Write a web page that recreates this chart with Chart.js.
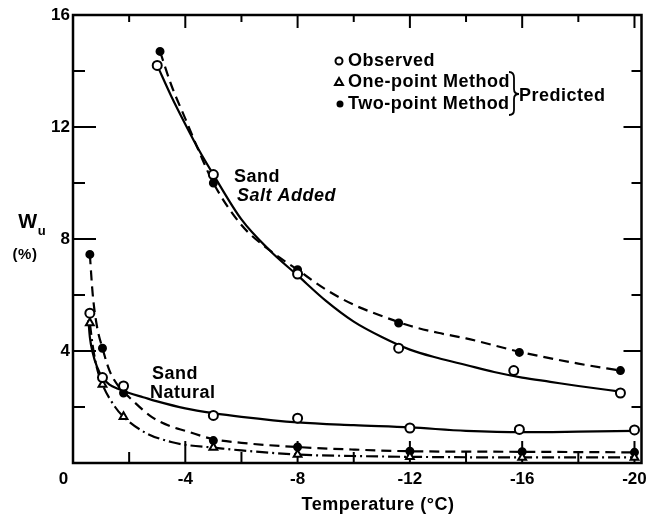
<!DOCTYPE html>
<html>
<head>
<meta charset="utf-8">
<script src="https://cdn.jsdelivr.net/npm/chart.js@4.4.1/dist/chart.umd.min.js"></script>
<style>
  html, body { margin: 0; padding: 0; background: #fff; }
  #wrap { width: 648px; height: 517px; }
</style>
</head>
<body>
<div id="wrap"><canvas id="wuChart" width="648" height="517"></canvas></div>
<script>
// Axis ticks
const xTickValues = [0, -4, -8, -12, -16, -20];
const yTickValues = [0, 4, 8, 12, 16];
const xMinorTicks = [-2, -6, -10, -14, -18];
const yMinorTicks = [2, 6, 10, 14];

// Sand, salt added: measured points and predicted (two-point) points
const saltObsT = [-3.0, -5.0, -8.0, -11.6, -15.7, -19.5];
const saltObsW = [14.2, 10.3, 6.75, 4.1, 3.3, 2.5];
const saltTwoT = [-3.1, -5.0, -8.0, -11.6, -15.9, -19.5];
const saltTwoW = [14.7, 10.0, 6.9, 5.0, 3.95, 3.3];

// Sand, salt added: drawn curves
const saltFitT = [-3.0, -3.5, -4, -4.5, -5, -6, -7, -8, -9, -10, -11, -12, -13, -14, -15, -16, -17, -18, -19.5];
const saltFitW = [14.2, 13.1, 12.1, 11.15, 10.3, 8.7, 7.6, 6.7, 5.8, 5.05, 4.5, 4.05, 3.75, 3.5, 3.25, 3.05, 2.9, 2.75, 2.55];
const saltTwoFitT = [-3.1, -3.5, -4, -4.5, -5, -6, -7, -8, -9, -10, -11, -12, -13, -14, -16, -18, -19.5];
const saltTwoFitW = [14.7, 13.5, 12.3, 11.1, 10.0, 8.5, 7.6, 6.9, 6.2, 5.65, 5.25, 4.9, 4.65, 4.45, 3.95, 3.55, 3.3];

// Sand, natural: measured, one-point and two-point points
const natObsT = [-0.6, -1.05, -1.8, -5.0, -8.0, -12.0, -15.9, -20.0];
const natObsW = [5.35, 3.05, 2.75, 1.7, 1.6, 1.25, 1.2, 1.18];
const natOneT = [-0.6, -1.05, -1.8, -5.0, -8.0, -12.0, -16.0, -20.0];
const natOneW = [5.0, 2.8, 1.65, 0.55, 0.3, 0.22, 0.2, 0.2];
const natTwoT = [-0.6, -1.05, -1.8, -5.0, -8.0, -12.0, -16.0, -20.0];
const natTwoW = [7.45, 4.1, 2.5, 0.8, 0.57, 0.42, 0.4, 0.38];

// Sand, natural: drawn curves
const natFitT = [-0.55, -0.6, -0.7, -0.85, -1.05, -1.3, -1.6, -2, -2.5, -3, -4, -5, -6, -8, -10, -12, -14, -16, -18, -20];
const natFitW = [5.1, 4.5, 3.95, 3.45, 3.05, 2.8, 2.65, 2.5, 2.35, 2.2, 1.95, 1.78, 1.65, 1.45, 1.35, 1.27, 1.15, 1.1, 1.12, 1.15];
const natTwoFitT = [-0.6, -0.7, -0.85, -1.05, -1.3, -1.65, -2, -2.8, -3.5, -4, -5, -6, -8, -10, -12, -16, -20];
const natTwoFitW = [7.45, 6.05, 4.9, 4.1, 3.3, 2.7, 2.35, 1.65, 1.3, 1.15, 0.85, 0.72, 0.57, 0.48, 0.42, 0.4, 0.38];
const natOneFitT = [-0.6, -0.7, -0.85, -1.05, -1.5, -1.8, -2.6, -3.5, -4, -5, -6, -8, -10, -12, -16, -20];
const natOneFitW = [5.0, 4.2, 3.4, 2.8, 2.0, 1.65, 1.07, 0.75, 0.65, 0.55, 0.45, 0.3, 0.25, 0.22, 0.2, 0.2];

const FONT = '"Liberation Sans", Arial, sans-serif';

// Helper to zip two arrays into {x, y} points
function pts(xs, ys) {
    return xs.map((x, i) => ({ x: x, y: ys[i] }));
}

function curve(xs, ys, dash) {
    return {
        data: pts(xs, ys),
        showLine: true,
        borderColor: '#000',
        borderWidth: 2.2,
        borderDash: dash,
        pointRadius: 0,
        cubicInterpolationMode: 'monotone',
        fill: false
    };
}

function marks(xs, ys, style, filled, r) {
    return {
        data: pts(xs, ys),
        showLine: false,
        pointStyle: style,
        pointRadius: r,
        pointBorderWidth: 2,
        pointBorderColor: '#000',
        pointBackgroundColor: filled ? '#000' : '#fff'
    };
}

// Frame with inward tick marks on all four sides
const frame = {
    id: 'frame',
    beforeDatasetsDraw(chart) {
        const { ctx, chartArea: a, scales } = chart;
        const xs = scales.x, ys = scales.y;
        ctx.save();
        ctx.strokeStyle = '#000';
        ctx.lineWidth = 2;
        const tick = (x1, y1, x2, y2) => {
            ctx.beginPath(); ctx.moveTo(x1, y1); ctx.lineTo(x2, y2); ctx.stroke();
        };
        xTickValues.concat(xMinorTicks).forEach(v => {
            if (v === 0) return;
            const major = xTickValues.includes(v);
            const px = xs.getPixelForValue(v);
            tick(px, a.bottom, px, a.bottom - (major ? 22 : 11));
            tick(px, a.top, px, a.top + (major ? 13 : 7));
        });
        yTickValues.concat(yMinorTicks).forEach(v => {
            if (v === 0 || v === 16) return;
            const major = yTickValues.includes(v);
            const py = ys.getPixelForValue(v);
            tick(a.left, py, a.left + (major ? 23 : 12), py);
            tick(a.right, py, a.right - (major ? 18 : 10), py);
        });
        ctx.lineWidth = 2.5;
        ctx.strokeRect(a.left, a.top, a.right - a.left, a.bottom - a.top);
        ctx.restore();
    }
};

// Legend block, curve labels and axis titles
const labels = {
    id: 'labels',
    afterDraw(chart) {
        const ctx = chart.ctx;
        ctx.save();
        ctx.fillStyle = '#000';
        ctx.strokeStyle = '#000';
        ctx.textBaseline = 'middle';
        ctx.textAlign = 'left';
        ctx.letterSpacing = '0.5px';
        ctx.font = 'bold 18px ' + FONT;

        // legend markers
        ctx.lineWidth = 2;
        ctx.beginPath(); ctx.arc(339, 61, 3.5, 0, Math.PI * 2); ctx.stroke();
        ctx.beginPath(); ctx.moveTo(339, 78); ctx.lineTo(343, 85); ctx.lineTo(335, 85); ctx.closePath(); ctx.stroke();
        ctx.beginPath(); ctx.arc(340, 104, 3.5, 0, Math.PI * 2); ctx.fill();

        ctx.fillText('Observed', 348, 61);
        ctx.fillText('One-point Method', 348, 82);
        ctx.fillText('Two-point Method', 348, 104);

        // brace grouping the two predicted methods
        ctx.lineWidth = 1.8;
        ctx.beginPath();
        ctx.moveTo(509, 72);
        ctx.quadraticCurveTo(514, 72, 514, 78);
        ctx.lineTo(514, 89);
        ctx.quadraticCurveTo(514, 94, 519, 94);
        ctx.quadraticCurveTo(514, 94, 514, 99);
        ctx.lineTo(514, 110);
        ctx.quadraticCurveTo(514, 115, 509, 115);
        ctx.stroke();
        ctx.fillText('Predicted', 519, 96);

        // curve labels
        ctx.fillText('Sand', 234, 177);
        ctx.font = 'italic bold 18px ' + FONT;
        ctx.fillText('Salt Added', 237, 196);
        ctx.font = 'bold 18px ' + FONT;
        ctx.fillText('Sand', 152, 374);
        ctx.fillText('Natural', 150, 393);

        // axis titles
        ctx.textAlign = 'center';
        ctx.fillText('Temperature (\u00B0C)', 378, 505);
        ctx.font = 'bold 20px ' + FONT;
        ctx.fillText('W', 28, 222);
        ctx.font = 'bold 13px ' + FONT;
        ctx.fillText('u', 42, 231);
        ctx.font = 'bold 15px ' + FONT;
        ctx.fillText('(%)', 25, 255);
        ctx.restore();
    }
};

const ctx = document.getElementById('wuChart').getContext('2d');
new Chart(ctx, {
    type: 'scatter',
    data: {
        datasets: [
            marks(saltObsT, saltObsW, 'circle', false, 4.5),
            marks(natObsT, natObsW, 'circle', false, 4.5),
            marks(natOneT, natOneW, 'triangle', false, 4.5),
            marks(saltTwoT, saltTwoW, 'circle', true, 3.5),
            marks(natTwoT, natTwoW, 'circle', true, 3.5),
            curve(saltFitT, saltFitW, []),
            curve(saltTwoFitT, saltTwoFitW, [10, 6]),
            curve(natFitT, natFitW, []),
            curve(natTwoFitT, natTwoFitW, [10, 6]),
            curve(natOneFitT, natOneFitW, [12, 4, 2, 4])
        ]
    },
    options: {
        responsive: false,
        animation: false,
        events: [],
        layout: { padding: { top: 15, right: 0, left: 0, bottom: 0 } },
        plugins: { legend: { display: false }, tooltip: { enabled: false } },
        scales: {
            x: {
                type: 'linear',
                min: -20.25,
                max: 0,
                reverse: true,
                grid: { display: false, drawTicks: false },
                border: { display: false },
                afterBuildTicks: s => { s.ticks = xTickValues.map(v => ({ value: v })); },
                afterFit: s => { s.height = 54; s.paddingLeft = 0; s.paddingRight = 0; },
                ticks: {
                    padding: 6,
                    color: '#000',
                    font: { family: FONT, size: 17, weight: 'bold' },
                    callback: v => (v === 0 ? '0    ' : String(v))
                }
            },
            y: {
                type: 'linear',
                min: 0,
                max: 16,
                grid: { display: false, drawTicks: false },
                border: { display: false },
                afterBuildTicks: s => { s.ticks = yTickValues.map(v => ({ value: v })); },
                afterFit: s => { s.width = 73; s.paddingTop = 0; s.paddingBottom = 0; },
                ticks: {
                    padding: 3,
                    color: '#000',
                    font: { family: FONT, size: 17, weight: 'bold' },
                    callback: v => (v === 0 ? '' : String(v))
                }
            }
        }
    },
    plugins: [frame, labels]
});
</script>
</body>
</html>
